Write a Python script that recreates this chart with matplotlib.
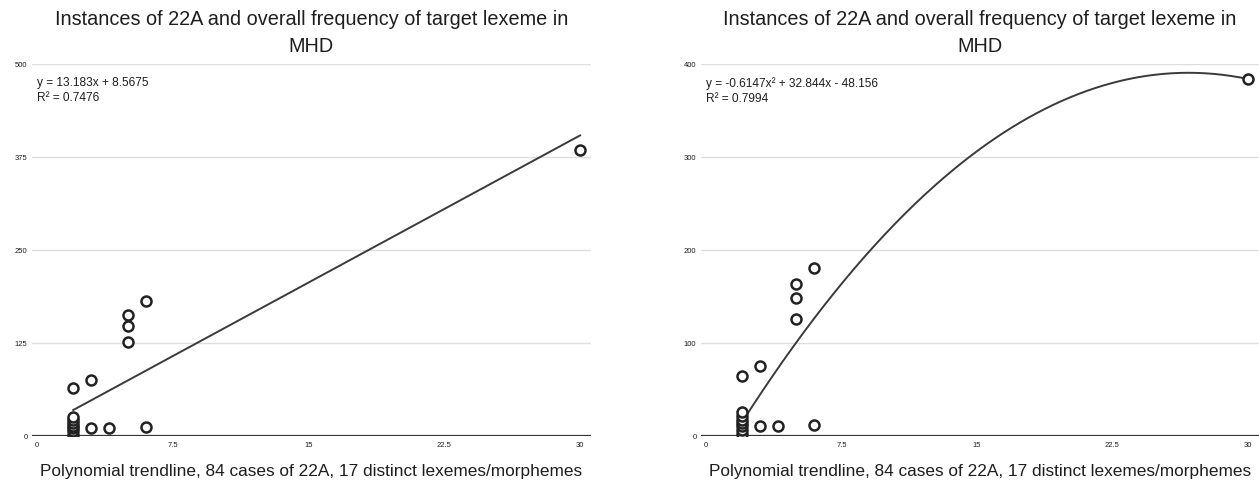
import numpy as np
import matplotlib.pyplot as plt

plt.rcParams['font.family'] = ['Liberation Sans', 'DejaVu Sans']

# 22A instances (x) vs overall frequency of the lexeme in MHD (y)
instances = [2, 2, 2, 2, 2, 2, 2, 2, 3, 3, 4, 5, 5, 5, 6, 6, 30]
frequency = [2, 7, 11, 14, 17, 21, 26, 65, 11, 75, 11, 126, 148, 163, 12, 181, 384]

# trendline coefficients (highest power first)
lin_coef = [13.183, 8.5675]
lin_r2 = 0.7476
poly_coef = [-0.6147, 32.844, -48.156]
poly_r2 = 0.7994

x_ticks = [0, 7.5, 15, 22.5, 30]
x_tick_labels = ['0', '7.5', '15', '22.5', '30']
left_y_ticks = [0, 125, 250, 375, 500]
right_y_ticks = [0, 100, 200, 300, 400]

title = 'Instances of 22A and overall frequency of target lexeme in\nMHD'
xlabel = 'Polynomial trendline, 84 cases of 22A, 17 distinct lexemes/morphemes'

txt_col = '#1e1e1e'
line_col = '#3a3a3a'


def eq_text(coef):
    if len(coef) == 2:
        return f'y = {coef[0]}x + {coef[1]}'
    a, b, c = coef
    sign = '-' if c < 0 else '+'
    return f'y = {a}x² + {b}x {sign} {abs(c)}'


def draw_panel(ax, coef, r2, yticks):
    ax.set_xlim(-0.3, 30.6)
    ax.set_ylim(0, yticks[-1])
    for yv in yticks[1:]:
        ax.axhline(yv, color='#dedede', lw=1.0, zorder=0)
    ax.axhline(0, color='#333333', lw=1.6, zorder=1)

    xs = np.linspace(min(instances), max(instances), 300)
    ax.plot(xs, np.polyval(coef, xs), color=line_col, lw=1.4, zorder=2)

    ax.scatter(instances, frequency, s=52, facecolors='white',
               edgecolors='#222222', linewidths=1.8, zorder=3)

    ax.set_xticks(x_ticks)
    ax.set_xticklabels(x_tick_labels)
    ax.set_yticks(yticks)
    ax.set_yticklabels([str(v) for v in yticks])
    ax.tick_params(length=0, labelsize=5.5, labelcolor=txt_col)
    ax.tick_params(axis='x', pad=4)
    ax.tick_params(axis='y', pad=3)
    for s in ax.spines.values():
        s.set_visible(False)

    ax.text(0.01, 0.965, eq_text(coef) + f'\nR² = {r2}', transform=ax.transAxes,
            ha='left', va='top', fontsize=8.6, color=txt_col, linespacing=1.35)

    ax.set_title(title, fontsize=14.3, color=txt_col, pad=9, linespacing=1.5)
    ax.set_xlabel(xlabel, fontsize=12.4, color=txt_col, labelpad=11)


fig = plt.figure(figsize=(12.59, 4.82), dpi=100)
ax1 = fig.add_axes([0.0251, 0.0954, 0.4443, 0.7718])
ax2 = fig.add_axes([0.5565, 0.0954, 0.4432, 0.7718])

draw_panel(ax1, lin_coef, lin_r2, left_y_ticks)
draw_panel(ax2, poly_coef, poly_r2, right_y_ticks)

fig.savefig('out.png', dpi=100, facecolor='white')
